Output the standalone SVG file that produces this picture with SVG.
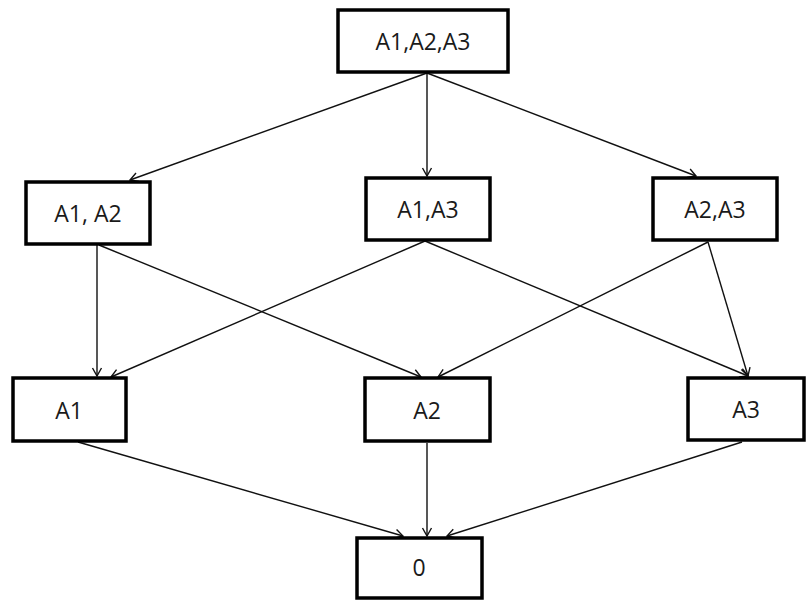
<svg xmlns="http://www.w3.org/2000/svg" width="807" height="601" viewBox="0 0 807 601">
  <style>
    .box { fill: #ffffff; stroke: #000000; stroke-width: 3.5; }
    .label { font-family: "Open Sans", "Liberation Sans", sans-serif; font-size: 23px; fill: #1a1a1a; text-anchor: middle; dominant-baseline: central; }
    .edge { stroke: #111111; stroke-width: 1.4; fill: none; marker-end: url(#arrow); }
  </style>
  <defs>
    <marker id="arrow" markerUnits="userSpaceOnUse" markerWidth="12" markerHeight="12" viewBox="0 0 12 12" refX="11" refY="6" orient="auto">
      <path d="M3,1.5 L11,6 L3,10.5" fill="none" stroke="#111111" stroke-width="1.4"/>
    </marker>
  </defs>

  <g id="connectors">
    <!-- from A1,A2,A3 -->
    <line class="edge" x1="427" y1="73" x2="130" y2="180"/>
    <line class="edge" x1="427" y1="73" x2="427" y2="176"/>
    <line class="edge" x1="427" y1="73" x2="696" y2="176"/>
    <!-- from A1, A2 -->
    <line class="edge" x1="97" y1="245" x2="97" y2="376"/>
    <line class="edge" x1="99" y1="245" x2="421" y2="377"/>
    <!-- from A1,A3 -->
    <line class="edge" x1="425" y1="241" x2="111" y2="377"/>
    <line class="edge" x1="425" y1="241" x2="748" y2="376"/>
    <!-- from A2,A3 -->
    <line class="edge" x1="708" y1="242" x2="438" y2="377"/>
    <line class="edge" x1="708" y1="242" x2="748" y2="376"/>
    <!-- into 0 -->
    <line class="edge" x1="78" y1="442" x2="403" y2="536"/>
    <line class="edge" x1="427" y1="443" x2="427" y2="536"/>
    <line class="edge" x1="742" y1="442" x2="447" y2="536"/>
  </g>

  <g id="n-a1a2a3">
    <rect class="box" x="338" y="10" width="170" height="62"/>
    <text class="label" x="423" y="41">A1,A2,A3</text>
  </g>
  <g id="n-a1a2">
    <rect class="box" x="26" y="182" width="124" height="62"/>
    <text class="label" x="88" y="213">A1, A2</text>
  </g>
  <g id="n-a1a3">
    <rect class="box" x="366" y="178" width="124" height="62"/>
    <text class="label" x="428" y="209">A1,A3</text>
  </g>
  <g id="n-a2a3">
    <rect class="box" x="653" y="178" width="124" height="62"/>
    <text class="label" x="715" y="209">A2,A3</text>
  </g>
  <g id="n-a1">
    <rect class="box" x="13" y="378" width="113" height="63"/>
    <text class="label" x="69" y="410">A1</text>
  </g>
  <g id="n-a2">
    <rect class="box" x="365" y="378" width="125" height="63"/>
    <text class="label" x="427" y="410">A2</text>
  </g>
  <g id="n-a3">
    <rect class="box" x="688" y="378" width="116" height="62"/>
    <text class="label" x="746" y="409">A3</text>
  </g>
  <g id="n-0">
    <rect class="box" x="357" y="538" width="125" height="60"/>
    <text class="label" x="419" y="567">0</text>
  </g>
</svg>
